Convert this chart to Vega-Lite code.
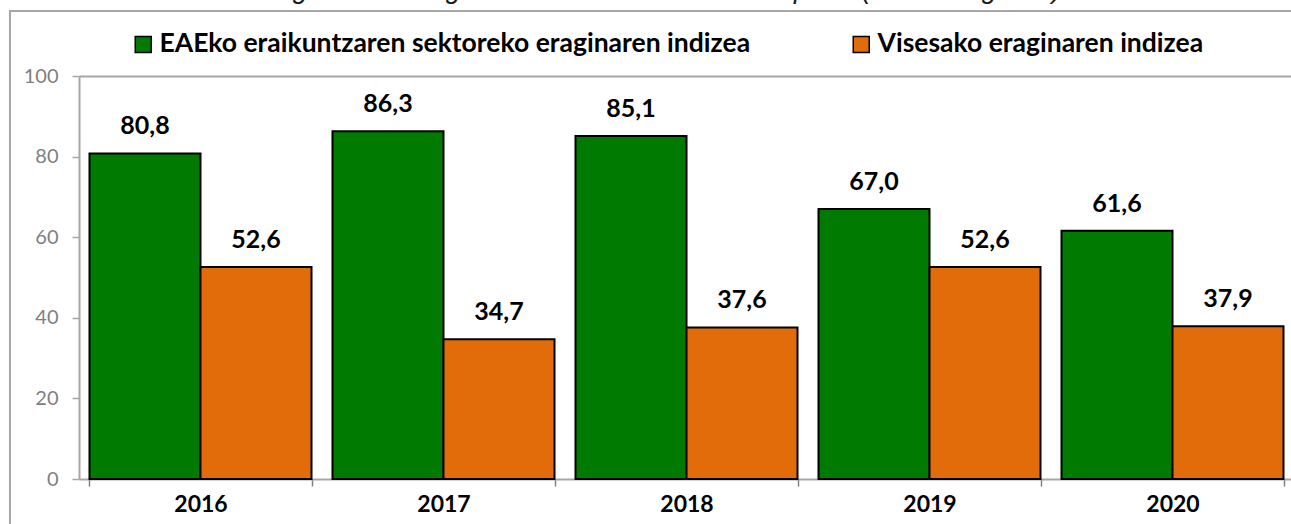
{
  "$schema": "https://vega.github.io/schema/vega-lite/v6.json",
  "autosize": {"type": "none"},
  "padding": {"left": 10, "top": 11, "right": -30, "bottom": -12},
  "width": 1311,
  "height": 525,
  "background": "white",
  "title": {
    "text": "16. grafikoa: Eraginaren indize motatuen erkapena (1.000 langileko)",
    "font": "Liberation Sans",
    "fontSize": 27,
    "fontStyle": "italic",
    "fontWeight": "normal",
    "color": "#1a1a1a",
    "anchor": "middle",
    "baseline": "alphabetic",
    "offset": 4,
    "dy": 18,
    "dx": -11
  },
  "config": {
    "locale": {"number": {"decimal": ",", "thousands": ".", "grouping": [3], "currency": ["", " €"]}},
    "view": {"stroke": "#a6a6a6", "strokeWidth": 2}
  },
  "data": {
    "values": [
      {"year": "2016", "series": "EAEko eraikuntzaren sektoreko eraginaren indizea", "value": 80.8},
      {"year": "2016", "series": "Visesako eraginaren indizea", "value": 52.6},
      {"year": "2017", "series": "EAEko eraikuntzaren sektoreko eraginaren indizea", "value": 86.3},
      {"year": "2017", "series": "Visesako eraginaren indizea", "value": 34.7},
      {"year": "2018", "series": "EAEko eraikuntzaren sektoreko eraginaren indizea", "value": 85.1},
      {"year": "2018", "series": "Visesako eraginaren indizea", "value": 37.6},
      {"year": "2019", "series": "EAEko eraikuntzaren sektoreko eraginaren indizea", "value": 67.0},
      {"year": "2019", "series": "Visesako eraginaren indizea", "value": 52.6},
      {"year": "2020", "series": "EAEko eraikuntzaren sektoreko eraginaren indizea", "value": 61.6},
      {"year": "2020", "series": "Visesako eraginaren indizea", "value": 37.9}
    ]
  },
  "encoding": {
    "x": {
      "field": "year",
      "type": "nominal",
      "scale": {"range": [69, 1284], "paddingInner": 0.0864, "paddingOuter": 0.0432},
      "axis": {
        "orient": "bottom",
        "offset": -57,
        "title": null,
        "tickBand": "extent",
        "labelAngle": 0,
        "domainColor": "#a6a6a6",
        "domainWidth": 2,
        "tickColor": "#808080",
        "tickWidth": 1.5,
        "tickSize": 7,
        "labelFont": "Lato",
        "labelFontWeight": "bold",
        "labelFontSize": 23,
        "labelColor": "black",
        "labelPadding": 7
      }
    },
    "y": {
      "field": "value",
      "type": "quantitative",
      "scale": {"domain": [0, 100], "range": [468, 65], "nice": false},
      "axis": {
        "orient": "left",
        "offset": -69,
        "title": null,
        "values": [0, 20, 40, 60, 80, 100],
        "domainColor": "#a6a6a6",
        "domainWidth": 2,
        "tickColor": "#a6a6a6",
        "tickWidth": 1.5,
        "tickSize": 7,
        "labelFont": "Lato",
        "labelFontSize": 20,
        "labelColor": "#7f7f7f",
        "labelPadding": 14,
        "grid": true,
        "gridColor": "#a6a6a6",
        "gridWidth": 2,
        "gridOpacity": {"condition": {"test": "datum.value === 100", "value": 1}, "value": 0}
      }
    },
    "xOffset": {
      "field": "series",
      "type": "nominal",
      "sort": ["EAEko eraikuntzaren sektoreko eraginaren indizea", "Visesako eraginaren indizea"],
      "scale": {"paddingInner": 0, "paddingOuter": 0}
    }
  },
  "layer": [
    {
      "mark": {"type": "bar", "stroke": "black", "strokeWidth": 2},
      "encoding": {
        "color": {
          "field": "series",
          "type": "nominal",
          "sort": ["EAEko eraikuntzaren sektoreko eraginaren indizea", "Visesako eraginaren indizea"],
          "scale": {"range": ["#007a00", "#e36c0a"]},
          "legend": {
            "title": null,
            "orient": "none",
            "legendX": 120,
            "legendY": 20,
            "direction": "horizontal",
            "padding": 0,
            "symbolType": "square",
            "symbolSize": 256,
            "symbolStrokeColor": "black",
            "symbolStrokeWidth": 1.5,
            "symbolOpacity": 1,
            "labelFont": "Lato",
            "labelFontSize": 26.5,
            "labelFontWeight": "bold",
            "labelColor": "black",
            "labelLimit": 900,
            "labelOffset": 3,
            "columnPadding": 97
          }
        }
      }
    },
    {
      "mark": {"type": "text", "font": "Lato", "fontSize": 25, "fontWeight": "bold", "color": "black", "baseline": "alphabetic", "dy": -19},
      "encoding": {
        "text": {"field": "value", "type": "quantitative", "format": ".1f"}
      }
    }
  ]
}
